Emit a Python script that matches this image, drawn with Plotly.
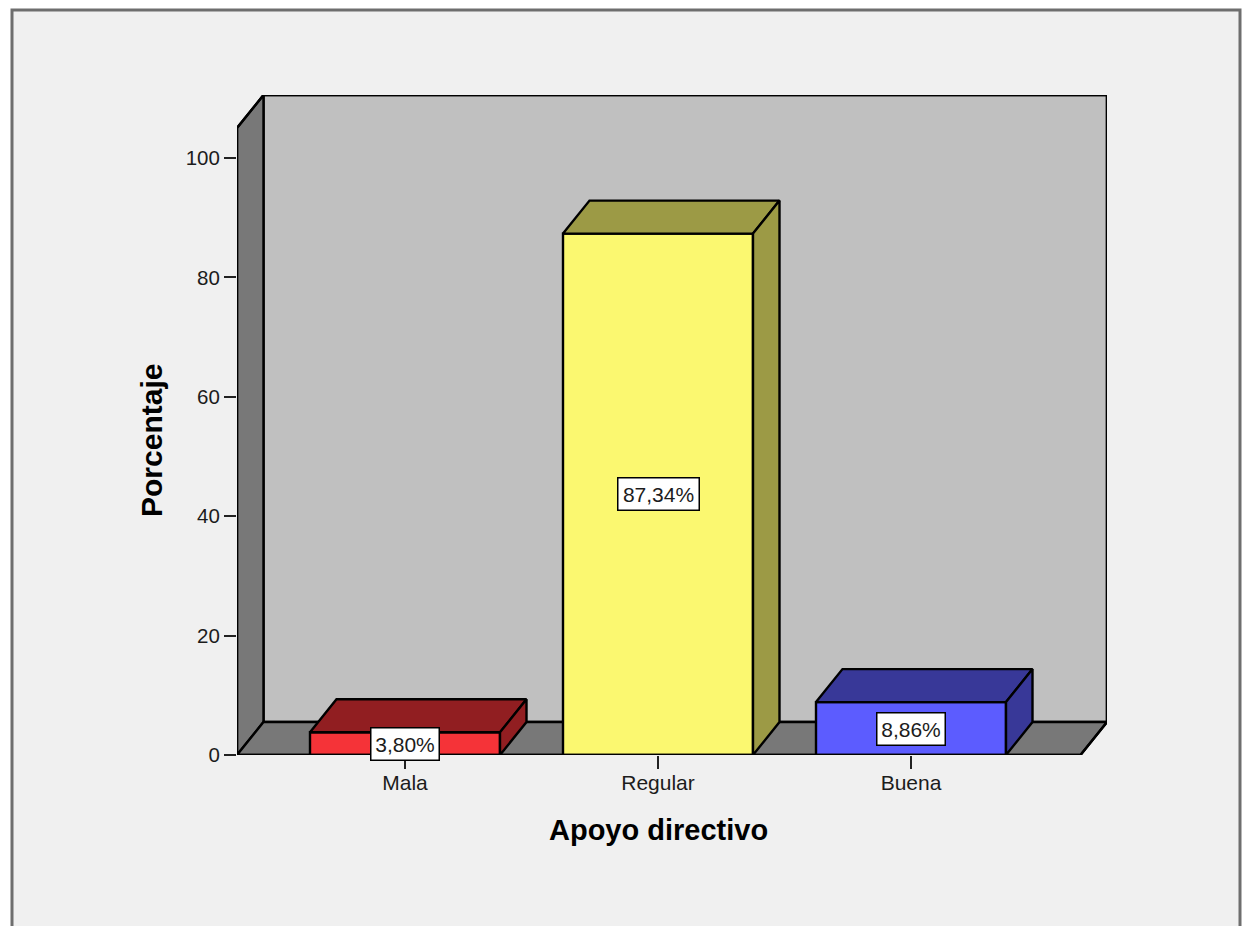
import plotly.graph_objects as go

# Survey results
categories = ["Mala", "Regular", "Buena"]
percentages = [3.80, 87.34, 8.86]
front_colors = ["#f53338", "#fbf870", "#5c5cff"]
shade_colors = ["#911e21", "#9c9a45", "#383898"]
y_ticks = [0, 20, 40, 60, 80, 100]

FONT = "Liberation Sans"
INK = "#1c1c1c"
EDGE = 2.4
WIDTH, HEIGHT = 1243, 926

# Plot box in page pixels, and pixels per axis unit
LEFT, RIGHT, TOP, BOTTOM = 237, 1107, 95, 755
PX_X, PX_Y = 253.0, 5.97
X_ORIGIN = 405

x_min = (LEFT - X_ORIGIN) / PX_X
x_max = (RIGHT - X_ORIGIN) / PX_X
y_max = (BOTTOM - TOP) / PX_Y

# Oblique depth of the box and the bars, in axis units
depth_x = 26.5 / PX_X
depth_y = 33 / PX_Y
half_bar = 95 / PX_X
floor_right = x_max - depth_x


def page_x(px):
    return (px - LEFT) / (RIGHT - LEFT)


def page_y(py):
    return (BOTTOM - py) / (BOTTOM - TOP)


def polygon_path(points):
    return "M " + " L ".join(f"{x},{y}" for x, y in points) + " Z"


fig = go.Figure()

# Front faces
fig.add_trace(go.Bar(
    x=list(range(len(categories))),
    y=percentages,
    width=2 * half_bar,
    marker=dict(color=front_colors, line=dict(color="#000000", width=EDGE)),
    hoverinfo="skip",
    showlegend=False,
))

# Top and side faces
for i, value in enumerate(percentages):
    x0, x1 = i - half_bar, i + half_bar
    top_face = [(x0, value), (x1, value), (x1 + depth_x, value + depth_y),
                (x0 + depth_x, value + depth_y), (x0, value)]
    side_face = [(x1, 0), (x1 + depth_x, depth_y), (x1 + depth_x, value + depth_y),
                 (x1, value), (x1, 0)]
    for face in (top_face, side_face):
        fig.add_trace(go.Scatter(
            x=[p[0] for p in face],
            y=[p[1] for p in face],
            mode="lines",
            fill="toself",
            fillcolor=shade_colors[i],
            line=dict(color="#000000", width=EDGE),
            hoverinfo="skip",
            showlegend=False,
        ))

# Outline of the box, left unclipped so its full stroke shows at the plot edge
outline = [
    (x_min, 0), (x_min, y_max - depth_y), (x_min + depth_x, y_max), (x_max, y_max),
    (x_max, depth_y), (floor_right, 0), (x_min, 0),
]
fig.add_trace(go.Scatter(
    x=[p[0] for p in outline],
    y=[p[1] for p in outline],
    mode="lines",
    line=dict(color="#000000", width=EDGE),
    cliponaxis=False,
    hoverinfo="skip",
    showlegend=False,
))

shapes = [
    # Panel around the chart; its lower edge runs past the page
    dict(type="rect", xref="paper", yref="paper", layer="below",
         x0=page_x(12), x1=page_x(1240), y0=page_y(960), y1=page_y(10),
         fillcolor="#f0f0f0", line=dict(color="#6e6e6e", width=3)),
    # Back wall
    dict(type="rect", xref="x", yref="y", layer="below",
         x0=x_min + depth_x, x1=x_max, y0=depth_y, y1=y_max,
         fillcolor="#c0c0c0", line=dict(color="#000000", width=EDGE)),
    # Left wall
    dict(type="path", xref="x", yref="y", layer="below",
         path=polygon_path([(x_min, 0), (x_min + depth_x, depth_y), (x_min + depth_x, y_max),
                            (x_min, y_max - depth_y)]),
         fillcolor="#787878", line=dict(color="#000000", width=EDGE)),
    # Floor
    dict(type="path", xref="x", yref="y", layer="below",
         path=polygon_path([(x_min, 0), (floor_right, 0), (x_max, depth_y),
                            (x_min + depth_x, depth_y)]),
         fillcolor="#787878", line=dict(color="#000000", width=EDGE)),
]

# Value labels at mid-height of each bar, with boxes sized to their text
annotations = []
for i, value in enumerate(percentages):
    label = f"{value:.2f}".replace(".", ",") + "%"
    annotations.append(dict(
        x=i, y=value / 2, xref="x", yref="y",
        text=label,
        showarrow=False, bgcolor="#ffffff", bordercolor="#000000", borderwidth=1.5,
        width=65 + 13 * (len(label) - 5), height=29,
        xanchor="center", yanchor="middle",
        font=dict(family=FONT, size=21, color=INK),
    ))

# Axis titles
annotations.append(dict(
    x=page_x(658), y=page_y(830), xref="paper", yref="paper", showarrow=False,
    xanchor="center", yanchor="middle",
    text="<b>Apoyo directivo</b>", font=dict(family=FONT, size=29, color="#000000"),
))
annotations.append(dict(
    x=page_x(152), y=page_y(441), xref="paper", yref="paper", showarrow=False, textangle=-90,
    xanchor="center", yanchor="middle",
    text="<b>Porcentaje</b>", font=dict(family=FONT, size=30, color="#000000"),
))

fig.update_layout(
    width=WIDTH,
    height=HEIGHT,
    margin=dict(l=LEFT, r=WIDTH - RIGHT, t=TOP, b=HEIGHT - BOTTOM, pad=0, autoexpand=False),
    paper_bgcolor="#ffffff",
    plot_bgcolor="rgba(0,0,0,0)",
    font=dict(family=FONT, size=20, color=INK),
    showlegend=False,
    shapes=shapes,
    annotations=annotations,
    xaxis=dict(
        range=[x_min, x_max],
        tickmode="array",
        tickvals=list(range(len(categories))),
        ticktext=categories,
        ticks="outside",
        ticklen=13,
        tickwidth=2,
        tickcolor="#222222",
        ticklabelstandoff=-4,
        showgrid=False,
        zeroline=False,
        showline=False,
        tickfont=dict(family=FONT, size=21, color=INK),
    ),
    yaxis=dict(
        range=[0, y_max],
        tickmode="array",
        tickvals=y_ticks,
        ticks="outside",
        ticklen=12,
        tickwidth=2,
        tickcolor="#222222",
        showgrid=False,
        zeroline=False,
        showline=False,
        tickfont=dict(family=FONT, size=20.5, color=INK),
    ),
)

fig.write_html("out.html", config=dict(displayModeBar=False))
